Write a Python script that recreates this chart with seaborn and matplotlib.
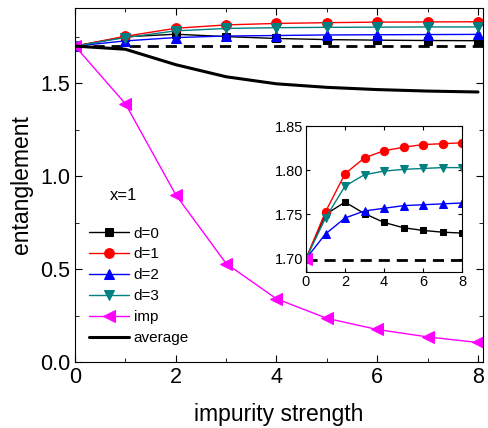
import numpy as np
import pandas as pd
import matplotlib
matplotlib.use("Agg")
import matplotlib.pyplot as plt
import seaborn as sns
from matplotlib.ticker import MultipleLocator, FormatStrFormatter

# --- data ---
strength = [0, 1, 2, 3, 4, 5, 6, 7, 8]
d0 = [1.700, 1.750, 1.764, 1.751, 1.741, 1.735, 1.732, 1.730, 1.729]
d1 = [1.700, 1.753, 1.796, 1.814, 1.822, 1.826, 1.829, 1.830, 1.831]
d2 = [1.700, 1.728, 1.746, 1.754, 1.757, 1.760, 1.761, 1.762, 1.763]
d3 = [1.700, 1.746, 1.782, 1.795, 1.799, 1.801, 1.802, 1.803, 1.803]
imp = [1.700, 1.39, 0.90, 0.53, 0.34, 0.235, 0.175, 0.135, 0.105]
average = [1.700, 1.683, 1.600, 1.535, 1.497, 1.478, 1.466, 1.458, 1.453]
baseline = 1.698

series = {"d=0": d0, "d=1": d1, "d=2": d2, "d=3": d3, "imp": imp}
styles = {
    "d=0": dict(color="black", marker="s", ms=6),
    "d=1": dict(color="red", marker="o", ms=7),
    "d=2": dict(color="blue", marker="^", ms=7),
    "d=3": dict(color="#008080", marker="v", ms=7),
    "imp": dict(color="#ff00ff", marker="<", ms=9),
}

rows = []
for name, vals in series.items():
    for x, v in zip(strength, vals):
        rows.append({"strength": x, "value": v, "series": name})
df = pd.DataFrame(rows)

sns.set_style("ticks")
plt.rcParams["font.family"] = ["Liberation Sans", "DejaVu Sans"]
plt.rcParams.update({
    "xtick.direction": "in", "ytick.direction": "in",
    "text.color": "black", "axes.labelcolor": "black",
    "xtick.color": "black", "ytick.color": "black",
    "axes.edgecolor": "black",
})

fig = plt.figure(figsize=(4.88, 4.28), dpi=100)
ax = fig.add_axes([75 / 488, 1 - 362 / 428, 408 / 488, 354 / 428])


def draw(axis, inset=False):
    for name in series:
        st = styles[name]
        sub = df[df["series"] == name]
        sns.lineplot(data=sub, x="strength", y="value", ax=axis, color=st["color"],
                     marker=st["marker"], markersize=st["ms"] - (1 if inset else 0),
                     markeredgecolor=st["color"], linewidth=1, label=name)
    axis.axhline(baseline, color="black", ls=(0, (4, 2.5)), lw=2, zorder=1)


draw(ax)
sns.lineplot(x=strength, y=average, ax=ax, color="black", linewidth=2.2, label="average")

ax.set_xlim(0, 8.1)
ax.set_ylim(0, 1.905)
ax.xaxis.set_major_locator(MultipleLocator(2))
ax.xaxis.set_minor_locator(MultipleLocator(1))
ax.yaxis.set_major_locator(MultipleLocator(0.5))
ax.yaxis.set_minor_locator(MultipleLocator(0.25))
ax.tick_params(which="both", top=True, right=True, labelsize=15.5)
ax.tick_params(which="major", length=5)
ax.tick_params(which="minor", length=3)
ax.set_xlabel("impurity strength", fontsize=16.5, labelpad=11)
ax.set_ylabel("entanglement", fontsize=16.5, labelpad=5)

ax.text(0.085, 0.47, "x=1", transform=ax.transAxes, fontsize=12, va="center")
ax.legend(loc="upper left", bbox_to_anchor=(0.02, 0.40), frameon=False,
          fontsize=11, handlelength=2.6, labelspacing=0.45,
          handletextpad=0.3, borderaxespad=0)

# inset
ins = fig.add_axes([306 / 488, 1 - 272 / 428, 156 / 488, 146 / 428])
draw(ins, inset=True)
if ins.get_legend():
    ins.get_legend().remove()
ins.set_xlim(0, 8)
ins.set_ylim(1.685, 1.85)
ins.xaxis.set_major_locator(MultipleLocator(2))
ins.yaxis.set_major_locator(MultipleLocator(0.05))
ins.yaxis.set_major_formatter(FormatStrFormatter("%.2f"))
ins.tick_params(which="both", top=True, right=True, labelsize=10.5, length=3, pad=2)
ins.set_xlabel("")
ins.set_ylabel("")

fig.savefig("out.png", dpi=100)
